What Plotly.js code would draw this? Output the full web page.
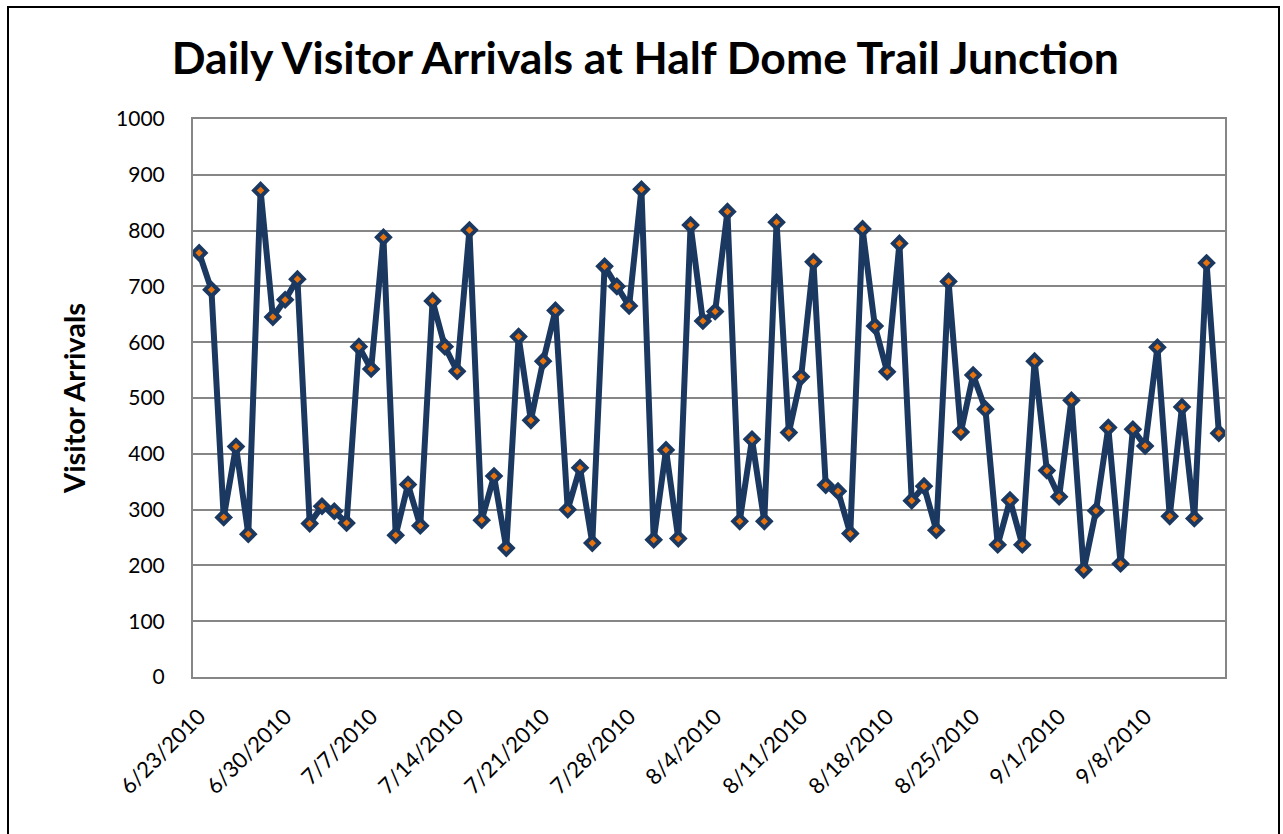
<!DOCTYPE html>
<html>
<head>
<meta charset="utf-8">
<script src="https://cdn.plot.ly/plotly-3.0.1.min.js"></script>
<style>
html,body{margin:0;padding:0;width:1283px;height:834px;overflow:hidden;background:#fff;}
#chart{position:absolute;left:0;top:0;width:1283px;height:834px;}
#frame{position:absolute;left:7px;top:6px;width:1269px;height:900px;border:2px solid #000;pointer-events:none;}
</style>
</head>
<body>
<div id="chart"></div>
<div id="frame"></div>
<script>
// Dates (daily, 6/23/2010 - 9/14/2010)
const startDate = '2010-06-23';
const dayCount = 84;
// Daily visitor arrivals
const arrivals = [
  760,694,286,413,256,872,645,676,
  713,275,306,297,276,592,552,788,254,345,271,674,592,548,801,281,360,231,610,460,566,657,300,375,240,736,700,665,874,246,407,
  248,810,638,655,834,279,426,279,815,438,538,744,344,333,257,803,629,547,777,316,342,263,709,439,541,480,237,317,237,566,370,
  323,496,192,298,447,203,444,414,591,288,484,284,742,437
];
const tickDates = ['2010-06-23','2010-06-30','2010-07-07','2010-07-14','2010-07-21','2010-07-28','2010-08-04','2010-08-11','2010-08-18','2010-08-25','2010-09-01','2010-09-08'];
const tickLabels = ['6/23/2010','6/30/2010','7/7/2010','7/14/2010','7/21/2010','7/28/2010','8/4/2010','8/11/2010','8/18/2010','8/25/2010','9/1/2010','9/8/2010'];

function addDays(s, n){
  const d = new Date(s + 'T00:00:00Z');
  d.setUTCDate(d.getUTCDate() + n);
  return d.toISOString().slice(0,10);
}
const dates = [];
for (let i = 0; i < dayCount; i++) dates.push(addDays(startDate, i));

const FONT = 'Lato, "Open Sans", sans-serif';

const trace = {
  x: dates, y: arrivals, type: 'scatter', mode: 'lines+markers',
  line: {color: '#1B3860', width: 6},
  marker: {symbol: 'diamond', size: 10, color: '#E8720C', line: {color: '#1B3860', width: 4}},
  hoverinfo: 'x+y'
};

const layout = {
  width: 1283, height: 834,
  margin: {l: 193, r: 58, t: 119, b: 157},
  paper_bgcolor: '#fff', plot_bgcolor: '#fff',
  showlegend: false,
  title: {text: 'Daily Visitor Arrivals at Half Dome Trail Junction', font: {family: FONT, size: 44.5, color: '#000', weight: 'bold'}, x: 0.503, xanchor: 'center', y: 0.93, yanchor: 'middle'},
  xaxis: {
    type: 'date',
    range: ['2010-06-22 12:00', '2010-09-14 12:00'],
    tickmode: 'array', tickvals: tickDates, ticktext: tickLabels,
    tickangle: -45, tickfont: {family: FONT, size: 22, color: '#000'},
    showgrid: false, zeroline: false,
    showline: true, linecolor: '#868686', linewidth: 2, mirror: true,
    ticks: '', ticklabelstandoff: 16
  },
  yaxis: {
    range: [0, 1000], tickmode: 'linear', tick0: 0, dtick: 100,
    tickfont: {family: FONT, size: 21, color: '#000'},
    showgrid: true, gridcolor: '#868686', gridwidth: 2,
    zeroline: false, showline: true, linecolor: '#868686', linewidth: 2, mirror: true,
    ticks: '', ticklabelstandoff: 22,
    title: {text: 'Visitor Arrivals', font: {family: FONT, size: 29, color: '#000', weight: 'bold'}, standoff: 22}
  }
};

Plotly.newPlot('chart', [trace], layout, {displayModeBar: false, staticPlot: true});
</script>
</body>
</html>
